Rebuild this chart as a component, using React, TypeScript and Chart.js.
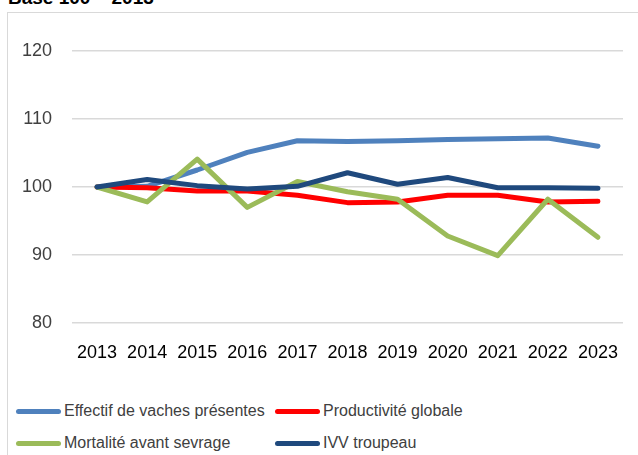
import React, { useEffect, useRef } from "react";
import { Chart, registerables } from "chart.js";

Chart.register(...registerables);

const years = ["2013", "2014", "2015", "2016", "2017", "2018", "2019", "2020", "2021", "2022", "2023"];
const effectif = [100, 100.1, 102.5, 105.1, 106.8, 106.7, 106.8, 107.0, 107.1, 107.2, 106.0];
const productivite = [100, 99.9, 99.4, 99.4, 98.8, 97.7, 97.8, 98.8, 98.8, 97.8, 97.9];
const mortalite = [100, 97.8, 104.1, 97.0, 100.8, 99.3, 98.2, 92.8, 89.9, 98.2, 92.6];
const ivv = [100, 101.1, 100.2, 99.7, 100.1, 102.1, 100.4, 101.4, 99.9, 99.9, 99.8];
const yTicks = [80, 90, 100, 110, 120];

const seriesNames = ["Effectif de vaches présentes", "Productivité globale", "Mortalité avant sevrage", "IVV troupeau"];
const seriesColors = ["#4F81BD", "#FF0000", "#9BBB59", "#1F497D"];
const seriesData = [effectif, productivite, mortalite, ivv];

const FONT = "'Liberation Sans', Arial, sans-serif";

export default function App() {
  const ref = useRef<HTMLCanvasElement | null>(null);

  useEffect(() => {
    if (!ref.current) return;
    const chart = new Chart(ref.current, {
      type: "line",
      data: {
        labels: years,
        datasets: seriesData.map((d, i) => ({
          label: seriesNames[i],
          data: d,
          borderColor: seriesColors[i],
          backgroundColor: seriesColors[i],
          borderWidth: 5,
          pointRadius: 0,
          tension: 0,
          borderCapStyle: "round" as const,
          borderJoinStyle: "round" as const,
          order: 4 - i,
        })),
      },
      options: {
        responsive: false,
        animation: false,
        layout: { padding: { top: 51, right: 15, bottom: 0, left: 0 } },
        plugins: { legend: { display: false }, tooltip: { enabled: false }, title: { display: false } },
        scales: {
          x: {
            type: "category",
            offset: true,
            grid: { display: false, drawTicks: false },
            border: { display: false },
            ticks: { color: "#000000", font: { family: FONT, size: 18 }, padding: 19, maxRotation: 0 },
            afterFit: (s: any) => { s.height = 57; },
          },
          y: {
            min: 80,
            max: 120,
            afterBuildTicks: (s: any) => { s.ticks = yTicks.map((v) => ({ value: v })); },
            grid: { color: "#D9D9D9", lineWidth: 1.5, drawTicks: false },
            border: { display: false },
            ticks: { color: "#404040", font: { family: FONT, size: 18 }, padding: 20 },
            afterFit: (s: any) => { s.width = 72; },
          },
        },
      },
    });
    return () => chart.destroy();
  }, []);

  const legendRows = [[0, 1], [2, 3]];
  const colX = [16, 275];

  return (
    <div style={{ position: "fixed", left: 0, top: 0, width: 638, height: 455, overflow: "hidden", background: "#fff", fontFamily: FONT }}>
      <div style={{ position: "absolute", left: 8, top: -13, fontWeight: "bold", fontSize: 19, color: "#000", whiteSpace: "nowrap" }}>
        Base 100 – 2013
      </div>
      <div style={{ position: "absolute", left: 7, top: 12, width: 660, height: 480, border: "1.5px solid #D9D9D9", boxSizing: "border-box" }} />
      <canvas ref={ref} width={638} height={380} style={{ position: "absolute", left: 0, top: 0 }} />
      {legendRows.map((row, r) =>
        row.map((idx, c) => (
          <div key={idx} style={{ position: "absolute", left: colX[c], top: (r === 0 ? 411 : 443) - 11, height: 22, display: "flex", alignItems: "center", whiteSpace: "nowrap" }}>
            <span style={{ display: "inline-block", width: 45, height: 5, borderRadius: 3, background: seriesColors[idx], marginRight: 3 }} />
            <span style={{ fontSize: 16, color: "#404040" }}>{seriesNames[idx]}</span>
          </div>
        ))
      )}
    </div>
  );
}
